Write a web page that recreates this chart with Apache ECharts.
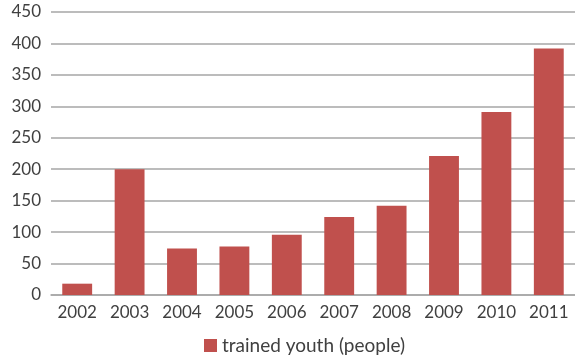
<!DOCTYPE html>
<html>
<head>
<meta charset="utf-8">
<script src="https://cdn.jsdelivr.net/npm/echarts@6/dist/echarts.min.js"></script>
<style>html,body{margin:0;padding:0;background:#fff;}#c{width:575px;height:358px;}</style>
</head>
<body>
<div id="c"></div>
<script>
var categories = ['2002','2003','2004','2005','2006','2007','2008','2009','2010','2011'];
var trainedYouth = [18, 200, 74, 77, 96, 124, 142, 221, 291, 392];
var seriesName = 'trained youth (people)';

var chart = echarts.init(document.getElementById('c'));
var font = 'Lato, "Open Sans", sans-serif';
chart.setOption({
  animation: false,
  backgroundColor: '#ffffff',
  grid: {left: 51, right: 0, top: 12, bottom: 63, containLabel: false},
  legend: {
    top: 336, left: 204, padding: 0,
    data: [seriesName],
    itemWidth: 13, itemHeight: 13, itemGap: 5,
    icon: 'rect',
    textStyle: {fontFamily: font, fontSize: 19, color: '#404040'}
  },
  xAxis: {
    type: 'category',
    data: categories,
    axisLine: {show: true, lineStyle: {color: '#a6a6a6', width: 1.5}},
    axisTick: {show: false},
    axisLabel: {fontFamily: font, fontSize: 17, color: '#404040', margin: 9}
  },
  yAxis: {
    type: 'value',
    min: 0, max: 450, interval: 50,
    axisLine: {show: false},
    axisTick: {show: false},
    splitLine: {lineStyle: {color: '#a6a6a6', width: 1.5}},
    axisLabel: {fontFamily: font, fontSize: 17, color: '#404040', margin: 10}
  },
  series: [{
    name: seriesName,
    type: 'bar',
    data: trainedYouth,
    barWidth: '57%',
    itemStyle: {color: '#C0504D'}
  }]
});
</script>
</body>
</html>
